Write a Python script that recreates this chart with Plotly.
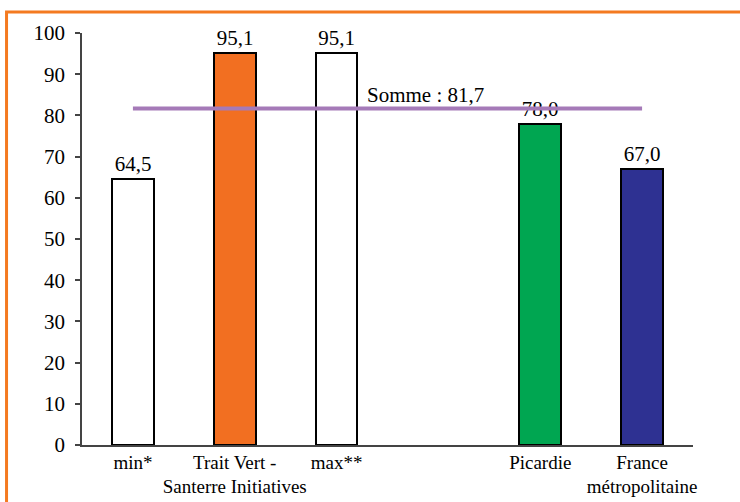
import plotly.graph_objects as go

# Categories (a blank slot separates the local group from the regional/national ones)
categories = ["min*", "Trait Vert -<br>Santerre Initiatives", "max**", "", "Picardie", "France<br>métropolitaine"]
bar_slots = [0, 1, 2, 4, 5]
values = [64.5, 95.1, 95.1, 78.0, 67.0]
fill_colors = ["#FFFFFF", "#F26F21", "#FFFFFF", "#00A651", "#2E3192"]
somme = 81.7
y_ticks = [0, 10, 20, 30, 40, 50, 60, 70, 80, 90, 100]

FONT = "Liberation Serif"
SIZE = 21


def fr(v):
    return f"{v:.1f}".replace(".", ",")


fig = go.Figure()
fig.add_trace(go.Bar(
    x=bar_slots,
    y=values,
    width=0.41,
    marker=dict(color=fill_colors, line=dict(color="#000000", width=2)),
    text=[fr(v) for v in values],
    textposition="outside",
    textfont=dict(family=FONT, size=SIZE, color="#000000"),
    cliponaxis=False,
    hoverinfo="skip",
))

# Reference line for the overall value
fig.add_shape(type="line", xref="x", yref="y",
              x0=bar_slots[0], x1=bar_slots[-1], y0=somme, y1=somme,
              line=dict(color="#A57AB8", width=4), layer="above")
fig.add_annotation(x=2.28, y=somme, xref="x", yref="y",
                   text="Somme : " + fr(somme), showarrow=False,
                   xanchor="left", yanchor="bottom", yshift=-1,
                   font=dict(family=FONT, size=SIZE, color="#000000"))

# Orange frame
fig.add_shape(type="rect", xref="paper", yref="paper",
              x0=-0.1235, x1=1.2, y0=-0.3, y1=1.051,
              line=dict(color="#F47A20", width=3), fillcolor="rgba(0,0,0,0)",
              layer="above")

fig.update_layout(
    width=740, height=502,
    margin=dict(l=82, r=47, t=33, b=57, autoexpand=False),
    paper_bgcolor="white", plot_bgcolor="white",
    showlegend=False,
    font=dict(family=FONT, size=SIZE, color="#000000"),
    xaxis=dict(
        range=[-0.5, 5.5], automargin=False, tickangle=0,
        tickmode="array", tickvals=list(range(len(categories))), ticktext=categories,
        showline=True, linecolor="#444444", linewidth=1.5,
        ticks="", showgrid=False, zeroline=False,
        ticklabelstandoff=-1,
        tickfont=dict(family=FONT, size=19, color="#000000"),
        fixedrange=True,
    ),
    yaxis=dict(
        range=[0, 100], automargin=False,
        tickmode="array", tickvals=y_ticks,
        showline=True, linecolor="#444444", linewidth=1.5,
        ticks="outside", ticklen=5, tickcolor="#444444", tickwidth=1.5,
        ticklabelstandoff=6,
        showgrid=False, zeroline=False,
        tickfont=dict(family=FONT, size=SIZE, color="#000000"),
        fixedrange=True,
    ),
    bargap=0,
)

fig.write_html("out.html")
